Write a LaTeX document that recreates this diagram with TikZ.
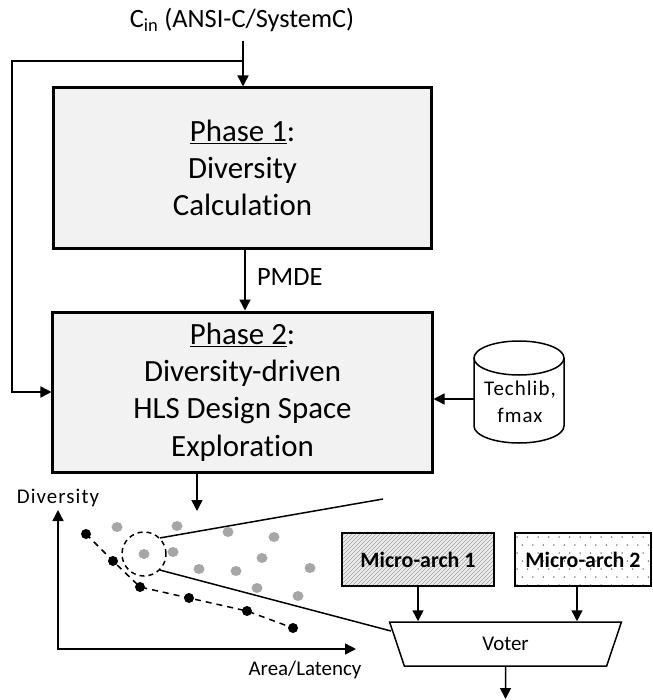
\documentclass[tikz,border=0pt]{standalone}
\usepackage{fontspec}
\setmainfont{Carlito}[Ligatures=NoCommon]
\newfontfamily\spaced{Carlito}[Ligatures=NoCommon,LetterSpace=5]
\usetikzlibrary{arrows.meta,shapes.geometric,calc}
\definecolor{boxgray}{HTML}{F2F2F2}
\definecolor{dotgray}{HTML}{A6A6A6}
\definecolor{hatchbg}{HTML}{EDEDED}
\begin{document}
\begin{tikzpicture}[x=1bp,y=-1bp,line width=1.5bp,
  arr/.style={-{Triangle[length=11bp,width=11bp]}},
  phasebox/.style={draw,line width=3bp,fill=boxgray,align=center,
    font=\fontsize{31}{37.5}\selectfont,minimum width=377bp,minimum height=160bp,inner sep=0pt},
  lbl/.style={font=\fontsize{26.5}{30}\selectfont},
  small/.style={font=\fontsize{21}{27}\selectfont},
  smallsp/.style={font=\fontsize{21}{27}\spaced},
  archbox/.style={draw,line width=1.5bp,minimum width=152bp,minimum height=53bp,inner sep=0pt,
    font=\fontsize{22}{25}\selectfont\bfseries},
  dsgn/.style={fill=dotgray},
  pareto/.style={fill=black}
]
\useasboundingbox (0,0) rectangle (653,700);

% input and feedback path
\node[lbl] (cin) at (242,20) {C\textsubscript{in} (ANSI-C/SystemC)};
\coordinate (in) at (243,41);
\coordinate (split) at (243,61);
\coordinate (fb) at (12,61);

% the two phases
\node[phasebox] (ph1) at (242.5,168) {\underline{Phase 1}:\\Diversity\\Calculation};
\node[phasebox,minimum width=379bp] (ph2) at (242.5,392)
  {\underline{Phase 2}:\\Diversity-driven\\HLS Design Space\\Exploration};

\draw[arr] (in) -- (ph1.north -| in);
\draw[arr] (split) -- (fb) |- (ph2.west);
\draw[arr] (ph1.south -| 245,0) -- (ph2.north -| 245,0)
  node[pos=0.45,right=8bp,lbl] (pmde) {PMDE};

% technology library store
\draw[fill=white] (474,358) -- (474,426)
  arc[start angle=180,end angle=0,x radius=45,y radius=17] -- (564,358);
\draw[fill=white] (519,358) ellipse [x radius=45,y radius=17];
\node[smallsp,align=center] (tech) at (520,401.5) {Techlib,\\fmax};
\coordinate (techL) at (474,399);
\draw[arr] (techL) -- (ph2.east |- techL);

% design space plot
\coordinate (dse) at (197,511);
\draw[arr] (ph2.south -| dse) -- (dse);
\coordinate (ytop) at (58,510);
\coordinate (xend) at (356,649);
\draw[{Triangle[length=11bp,width=11bp]}-{Triangle[length=11bp,width=11bp]}] (ytop) |- (xend);
\node[smallsp] (ylab) at (58,498) {Diversity};
\node[small] (xlab) at (305,670) {Area/Latency};

\foreach \px/\py in {117/527,177/526,228/532,274/537,144/554,173/552,199/569,
                     236/571,262/558,310/568,257/588,298/596}
  \fill[dsgn] (\px,\py) ellipse [x radius=5.5,y radius=5];

\coordinate (p1) at (86,534);
\coordinate (p2) at (113,561);
\coordinate (p3) at (140,587);
\coordinate (p4) at (189,598);
\coordinate (p5) at (247,611);
\coordinate (p6) at (293,628);
\draw[dash pattern=on 6bp off 5bp] (p1) -- (p2) -- (p3) -- (p4) -- (p5) -- (p6);
\foreach \p in {p1,p2,p3,p4,p5,p6} \fill[pareto] (\p) circle (5bp);

\node[draw,dash pattern=on 5bp off 4bp,circle,minimum size=44bp,inner sep=0pt] (sel) at (144,554) {};
\coordinate (fanT) at (383,499);
\coordinate (fanB) at (391,631);
\draw (sel.45) -- (fanT);
\draw (sel.-45) -- (fanB);

% micro-architectures: hatched and dotted fills
\begin{scope}
  \clip (342,533) rectangle (494,586);
  \fill[hatchbg] (342,533) rectangle (494,586);
  \foreach \k in {280,284,...,500}
    \draw[gray!75,line width=0.6bp] (\k,586) -- ++(60,-60);
\end{scope}
\begin{scope}
  \clip (515,533) rectangle (651,586);
  \foreach \r in {0,...,6} \foreach \c in {0,...,13}
    \fill[black!70] ({517+\c*10.5+mod(\r,2)*5.25},{537+\r*8}) circle (0.75bp);
\end{scope}
\node[archbox] (ma1) at (418,559.5) {Micro-arch 1};
\node[archbox,minimum width=136bp] (ma2) at (583,559.5) {Micro-arch 2};

% voter
\node[draw,trapezium,trapezium angle=76,shape border rotate=180,trapezium stretches=true,
  minimum width=233bp,minimum height=44bp,small,inner sep=0pt] (voter) at (505.5,644) {Voter};

\draw[arr] (ma1.south) -- (ma1.south |- voter.north);
\coordinate (m2) at (577,586);
\draw[arr] (ma2.south -| m2) -- (voter.north -| m2);
\coordinate (out) at (505.5,699);
\draw[arr] (voter.south) -- (out);
\end{tikzpicture}
\end{document}
